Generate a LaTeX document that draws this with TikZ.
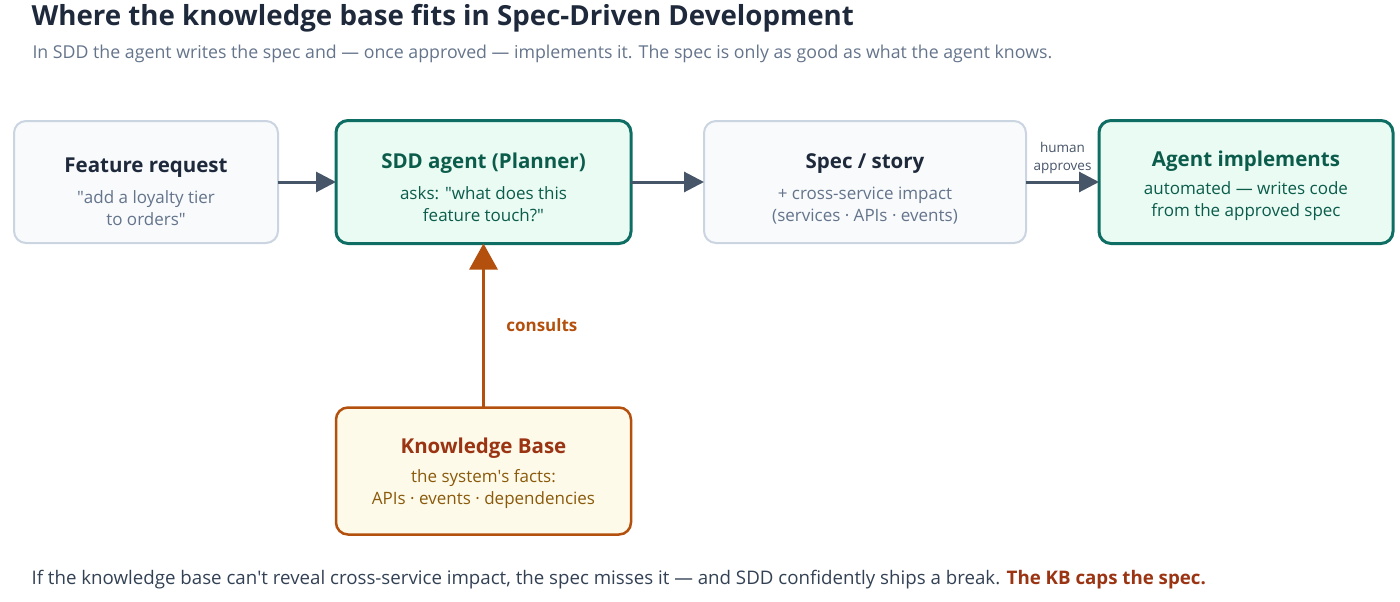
\documentclass[tikz,border=0pt]{standalone}
\usepackage{fontspec}
\setmainfont{Open Sans}
\usetikzlibrary{arrows.meta,positioning}

\definecolor{inkdark}{HTML}{1E293B}
\definecolor{inkgray}{HTML}{64748B}
\definecolor{inkbody}{HTML}{334155}
\definecolor{edgegray}{HTML}{CBD5E1}
\definecolor{fillgray}{HTML}{F8FAFC}
\definecolor{edgeteal}{HTML}{0F6E63}
\definecolor{fillteal}{HTML}{EAFBF3}
\definecolor{inkteal}{HTML}{0B5C4B}
\definecolor{edgekb}{HTML}{B4500D}
\definecolor{fillkb}{HTML}{FEFAEA}
\definecolor{inkkb}{HTML}{9A3412}
\definecolor{inkkbsub}{HTML}{8A5A0B}
\definecolor{arrowslate}{HTML}{475569}

\newcommand{\dq}{\textquotedbl}
\newcommand{\sq}{\textquotesingle}

\begin{document}
\begin{tikzpicture}[x=1pt,y=-1pt,
    plainbox/.style={draw=edgegray,fill=fillgray,line width=2pt,rounded corners=12pt,outer sep=0pt},
    agentbox/.style={draw=edgeteal,fill=fillteal,line width=3pt,rounded corners=12pt,outer sep=0pt},
    kbbox/.style={draw=edgekb,fill=fillkb,line width=2.5pt,rounded corners=12pt,outer sep=0pt},
    cardtext/.style={align=center,inner sep=0pt,font=\fontsize{17}{22}\selectfont},
    flow/.style={draw=arrowslate,line width=3pt,-{Triangle[length=20pt,width=20pt]}},
    kbflow/.style={draw=edgekb,line width=3pt,-{Triangle[length=26pt,width=28pt]}}]
  \useasboundingbox (0,0) rectangle (1400,602);

  % heading
  \node[anchor=west,text=inkdark,font=\fontsize{27.7}{32}\selectfont\bfseries] (title) at (28,18)
    {Where the knowledge base fits in Spec-Driven Development};
  \node[anchor=west,text=inkgray,font=\fontsize{17.75}{20}\selectfont] (subtitle) at (29,54)
    {In SDD the agent writes the spec and — once approved — implements it. The spec is only as good as what the agent knows.};

  % pipeline boxes
  \node[plainbox,minimum width=264pt,minimum height=122pt] (request) at (146,182) {};
  \node[agentbox,minimum width=295pt,minimum height=123pt,right=58pt of request] (planner) {};
  \node[plainbox,minimum width=322pt,minimum height=122pt,right=73pt of planner] (spec) {};
  \node[agentbox,minimum width=294pt,minimum height=123pt,right=73pt of spec] (implement) {};
  \node[kbbox,minimum width=295pt,minimum height=127pt,below=164pt of planner] (kb) {};

  % box texts
  \node[cardtext,text=inkgray] (requesttext) at ([yshift=-10pt]request.center)
    {{\fontsize{20.5}{24}\selectfont\bfseries\color{inkdark}Feature request}\\[9pt]
     \dq add a loyalty tier\\to orders\dq};
  \node[cardtext,text=inkteal] (plannertext) at ([yshift=-5.5pt]planner.center)
    {{\fontsize{20.5}{24}\selectfont\bfseries SDD agent (Planner)}\\[9pt]
     asks: \dq what does this\\feature touch?\dq};
  \node[cardtext,text=inkgray] (spectext) at ([yshift=-6.5pt]spec.center)
    {{\fontsize{20.5}{24}\selectfont\bfseries\color{inkdark}Spec / story}\\[9pt]
     + cross-service impact\\(services · APIs · events)};
  \node[cardtext,text=inkteal] (implementtext) at ([yshift=-3.5pt]implement.center)
    {{\fontsize{20.5}{24}\selectfont\bfseries Agent implements}\\[6pt]
     automated — writes code\\from the approved spec};
  \node[cardtext,text=inkkbsub] (kbtext) at ([yshift=-2.5pt]kb.center)
    {{\fontsize{20.5}{24}\selectfont\bfseries\color{inkkb}Knowledge Base}\\[7pt]
     the system\sq s facts:\\APIs · events · dependencies};

  % connectors
  \draw[flow] (request) -- (planner);
  \draw[flow] (planner) -- (spec);
  \draw[flow] (spec) -- node[above=3pt,align=center,text=arrowslate,
    font=\fontsize{13.5}{18}\selectfont] {human\\approves} (implement);
  \draw[kbflow] (kb) -- node[right=18pt,text=edgekb,font=\fontsize{17}{20}\selectfont\bfseries]
    {consults} (planner);

  % closing remark
  \node[anchor=west,text=inkbody,font=\fontsize{18.7}{22}\selectfont] (remark) at (28,580)
    {If the knowledge base can\sq t reveal cross-service impact, the spec misses it — and SDD confidently ships a break. {\bfseries\color{inkkb}The KB caps the spec.}};
\end{tikzpicture}
\end{document}
